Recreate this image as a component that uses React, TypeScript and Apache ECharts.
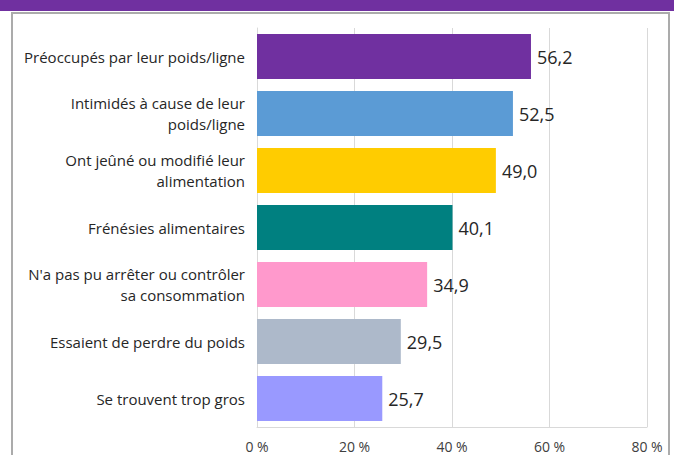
import React, { useEffect, useRef } from "react";
import * as echarts from "echarts";

const categories = [
  "Préoccupés par leur poids/ligne",
  "Intimidés à cause de leur\npoids/ligne",
  "Ont jeûné ou modifié leur\nalimentation",
  "Frénésies alimentaires",
  "N'a pas pu arrêter ou contrôler\nsa consommation",
  "Essaient de perdre du poids",
  "Se trouvent trop gros",
];
const values = [56.2, 52.5, 49.0, 40.1, 34.9, 29.5, 25.7];
const colors = ["#7030A0", "#5B9BD5", "#FFCC00", "#008080", "#FF99CC", "#ADB9CA", "#9999FF"];
const ticks = [0, 20, 40, 60, 80];

export default function App() {
  const ref = useRef<HTMLDivElement>(null);
  useEffect(() => {
    const chart = echarts.init(ref.current!, null, { renderer: "svg" });
    chart.setOption({
      animation: false,
      backgroundColor: "#ffffff",
      textStyle: { fontFamily: "Open Sans, Noto Sans, sans-serif" },
      graphic: [
        { type: "rect", shape: { x: 0, y: 0, width: 674, height: 11 }, style: { fill: "#7030A0" }, z: 10 },
        { type: "rect", shape: { x: 12, y: 13, width: 657, height: 460 }, style: { fill: "none", stroke: "#ABABAB", lineWidth: 2 }, z: 10 },
      ],
      grid: { left: 257, right: 27, top: 28, bottom: 28, containLabel: false },
      xAxis: {
        type: "value",
        min: ticks[0],
        max: ticks[ticks.length - 1],
        interval: 20,
        axisLabel: { formatter: "{value} %", color: "#404040", fontSize: 14, margin: 12 },
        splitLine: { lineStyle: { color: "#D9D9D9" } },
        axisLine: { show: true, lineStyle: { color: "#D9D9D9" } },
        axisTick: { show: false },
      },
      yAxis: {
        type: "category",
        inverse: true,
        data: categories,
        axisLine: { show: true, lineStyle: { color: "#D9D9D9" } },
        axisTick: { show: false },
        axisLabel: { color: "#262626", fontSize: 15, margin: 12, lineHeight: 21, align: "right" },
      },
      series: [
        {
          type: "bar",
          barWidth: "79%",
          data: values.map((v, i) => ({ value: v, itemStyle: { color: colors[i] } })),
          label: {
            show: true,
            position: "right",
            distance: 6,
            fontSize: 18,
            color: "#262626",
            formatter: (p: any) => p.value.toFixed(1).replace(".", ","),
          },
        },
      ],
    });
    return () => chart.dispose();
  }, []);
  return <div ref={ref} style={{ width: 674, height: 455, position: "absolute", left: 0, top: 0 }} />;
}
